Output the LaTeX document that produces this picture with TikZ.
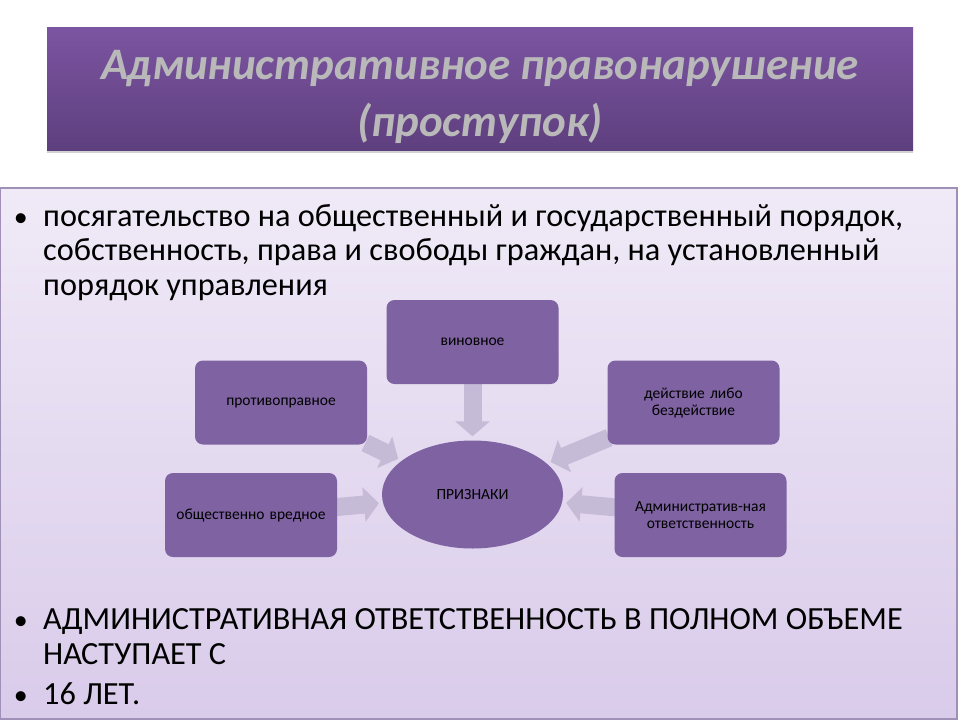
\documentclass[tikz,border=0pt]{standalone}
\usepackage{fontspec}
\setmainfont{Carlito}
\usetikzlibrary{arrows.meta,shapes.geometric,shadows}
\definecolor{sign}{HTML}{7E62A1}
\definecolor{signarrow}{HTML}{C6BBD6}
\definecolor{titletop}{HTML}{7C55A2}
\definecolor{titlebottom}{HTML}{5E3F7E}
\definecolor{bodytop}{HTML}{F0EAF7}
\definecolor{bodybottom}{HTML}{D9CBEA}
\definecolor{bodyline}{HTML}{A090B8}
\pgfdeclarelayer{slide}
\pgfdeclarelayer{arrows}
\pgfsetlayers{slide,arrows,main}
\tikzset{%
  signbox/.style  = {shape=rectangle, rounded corners=8pt, fill=sign,%
                     minimum width=172pt, minimum height=84pt,%
                     align=center, text width=160pt,%
                     font=\fontsize{15.5}{17}\selectfont},%
  signoval/.style = {ellipse, fill=sign, minimum width=181pt,%
                     minimum height=108pt, font=\fontsize{15.5}{17}\selectfont},%
  fatarrow/.style = {signarrow, line width=18pt, shorten <=-2pt, shorten >=4pt,%
                     -{Triangle[width=34pt,length=15pt]}},%
  bullettext/.style = {anchor=base west, align=flush left, text width=895pt,%
                     inner sep=0pt, font=\fontsize{32.3}{34.5}\selectfont}%
}
\begin{document}
\begin{tikzpicture}[x=1pt,y=-1pt]
	\useasboundingbox (0,0) rectangle (960,720);
	\begin{pgfonlayer}{slide}
	\fill[white] (0,0) rectangle (960,720);
	% title
	\node [top color=titletop, bottom color=titlebottom, minimum width=866pt,
	       minimum height=123pt, drop shadow={shadow xshift=0pt, shadow yshift=-3pt, opacity=.35}]
	       (title) at (480,88.5) {};
	\node [align=center, text=gray!55, font=\fontsize{45}{57}\selectfont\bfseries\itshape]
	      (titletext) at ([yshift=-8pt]title.center) {Административное правонарушение\\(проступок)};
	% body
	\node [top color=bodytop, bottom color=bodybottom, draw=bodyline, line width=1.5pt,
	       minimum width=957pt, minimum height=531pt, inner sep=0pt]
	       (body) at (478.5,453.5) {};
	\node [bullettext] (first) at (43,226)
	      {посягательство на общественный и государственный порядок, собственность, права и свободы граждан, на установленный порядок управления};
	\node [bullettext] (second) at (43,629.5)
	      {АДМИНИСТРАТИВНАЯ ОТВЕТСТВЕННОСТЬ В ПОЛНОМ ОБЪЕМЕ НАСТУПАЕТ С};
	\node [bullettext] (third) at (43,704) {16 ЛЕТ.};
	\foreach \line in {first,second,third}
		\node [anchor=base east, inner sep=0pt, font=\fontsize{28}{30}\selectfont]
		      at ([xshift=-15pt]\line.base west) {•};
	\end{pgfonlayer}
	% signs
	\node [signoval] (priznaki) at (472.5,494.5) {ПРИЗНАКИ};
	\node [signbox] (vinovnoe) at (472.5,342) {виновное};
	\node [signbox] (protivo) at (281,402.5) {противоправное};
	\node [signbox] (dejstvie) at (693.5,402.5) {действие либо\\бездействие};
	\node [signbox] (obsch) at (251,515) {общественно вредное};
	\node [signbox] (admin) at (700.5,515) {Административ-ная\\ответственность};
	\begin{pgfonlayer}{arrows}
	\foreach \from in {vinovnoe,protivo,dejstvie,obsch,admin}
		\draw [fatarrow] (\from) -- (priznaki);
	\end{pgfonlayer}
\end{tikzpicture}
\end{document}
